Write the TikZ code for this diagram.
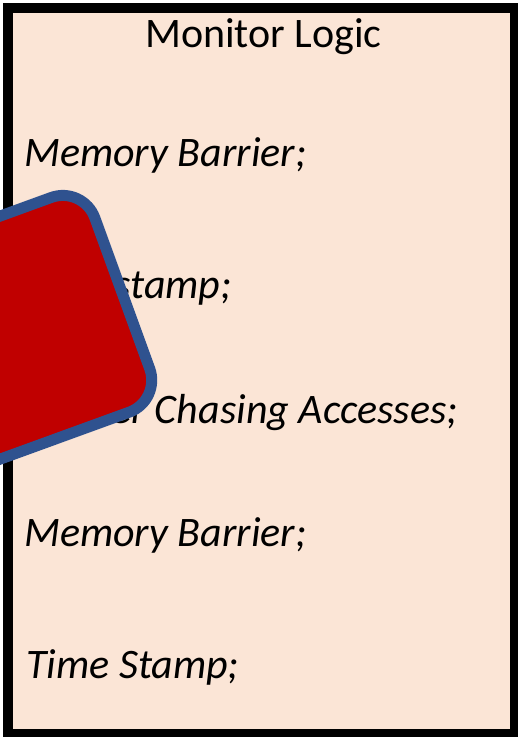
\documentclass[tikz,border=0pt]{standalone}
\usepackage{fontspec}
\setmainfont{Carlito}
\definecolor{peach}{HTML}{FBE5D6}
\definecolor{dred}{HTML}{C00000}
\definecolor{oblue}{HTML}{2F528F}
\begin{document}
\begin{tikzpicture}[x=1pt,y=-1pt,
  txt/.style={font=\fontsize{42}{50}\selectfont, inner sep=0pt, text=black},
  itxt/.style={txt, font=\fontsize{42}{50}\selectfont\itshape}]
\useasboundingbox (0,0) rectangle (518,737);
\clip (0,0) rectangle (518,737);
\draw[line width=10pt, fill=peach] (8,7.5) rectangle (515,734);
\node[txt, anchor=base] (title) at (263.5,47) {Monitor Logic};
\node[itxt, anchor=base west] (l1) at (24,166) {Memory Barrier;};
\node[itxt, anchor=base east] (l2) at (232,298) {Time stamp;};
\node[itxt, anchor=base east] (l3) at (458,423) {Pointer Chasing Accesses;};
\node[itxt, anchor=base west] (l4) at (24,546) {Memory Barrier;};
\node[itxt, anchor=base west] (l5) at (26,678) {Time Stamp;};
\coordinate (tr) at (83.18,185.86);
\coordinate (br) at (161.29,400.49);
\coordinate (bl) at (-115.5,501.2);
\coordinate (tl) at (-193.7,286.6);
\draw[line width=11pt, draw=oblue, fill=dred, rounded corners=34pt]
  (tl) -- (tr) -- (br) -- (bl) -- cycle;
\end{tikzpicture}
\end{document}
